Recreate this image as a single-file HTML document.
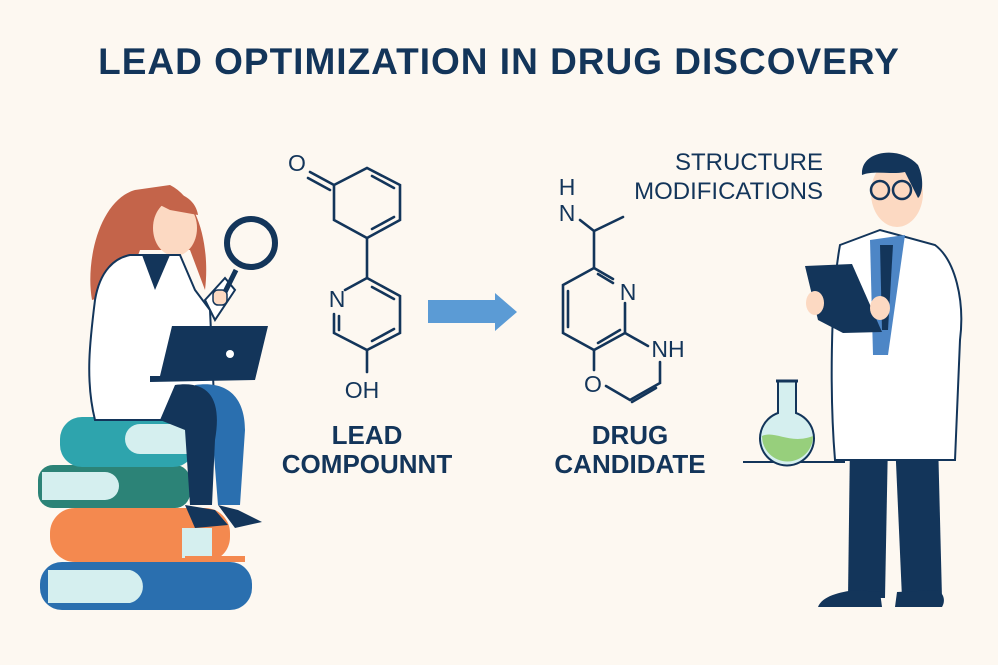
<!DOCTYPE html>
<html><head><meta charset="utf-8"><style>
html,body{margin:0;padding:0;background:#fdf8f1;}
svg{display:block}
text{font-family:"Liberation Sans",sans-serif;fill:#13355a;}
</style></head><body>
<svg width="998" height="665" viewBox="0 0 998 665" xmlns="http://www.w3.org/2000/svg">
<rect width="998" height="665" fill="#fdf8f1"/>
<text x="499" y="74" text-anchor="middle" font-size="37" font-weight="bold" letter-spacing="1">LEAD OPTIMIZATION IN DRUG DISCOVERY</text>

<!-- Lead compound -->
<g stroke="#13355a" stroke-width="2.6" fill="none" stroke-linecap="round">
<path d="M310,172 L334,185 M308,178 L330,190"/>
<path d="M334,185 L367,168 L400,185 L400,220 L367,238 L334,220 Z"/>
<path d="M372,176 L394,188 M372,229 L394,217"/>
<path d="M367,238 L367,278"/>
<path d="M367,278 L400,296 L400,333 L367,350 L334,333 L334,314 M345,290 L367,278"/>
<path d="M372,287 L394,299 M372,341 L394,329 M339,316 L339,330"/>
<path d="M367,350 L367,372"/>
</g>
<text x="297" y="171" text-anchor="middle" font-size="23">O</text>
<text x="337" y="307" text-anchor="middle" font-size="23">N</text>
<text x="362" y="398" text-anchor="middle" font-size="23">OH</text>
<text x="367" y="444" text-anchor="middle" font-size="26" font-weight="bold">LEAD</text>
<text x="367" y="473" text-anchor="middle" font-size="26" font-weight="bold">COMPOUNNT</text>

<polygon points="428,300 495,300 495,293 517,312 495,331 495,323 428,323" fill="#5b9bd5"/>

<!-- Drug candidate -->
<g stroke="#13355a" stroke-width="2.6" fill="none" stroke-linecap="round">
<path d="M580,220 L594,231 L623,217 M594,231 L594,268"/>
<path d="M594,268 L613,279 M594,268 L563,285 L563,333 L594,350 L625,333 L625,303"/>
<path d="M568,291 L568,327 M598,274 L613,283 M598,343 L620,330"/>
<path d="M625,333 L648,346 M660,362 L660,383 L630,400 L606,386 M594,350 L594,370"/>
<path d="M656,388 L632,402"/>
</g>
<text x="567" y="195" text-anchor="middle" font-size="23">H</text>
<text x="567" y="221" text-anchor="middle" font-size="23">N</text>
<text x="628" y="300" text-anchor="middle" font-size="23">N</text>
<text x="668" y="357" text-anchor="middle" font-size="23">NH</text>
<text x="593" y="392" text-anchor="middle" font-size="23">O</text>
<text x="630" y="444" text-anchor="middle" font-size="26" font-weight="bold">DRUG</text>
<text x="630" y="473" text-anchor="middle" font-size="26" font-weight="bold">CANDIDATE</text>

<text x="823" y="170" text-anchor="end" font-size="24">STRUCTURE</text>
<text x="823" y="199" text-anchor="end" font-size="24">MODIFICATIONS</text>

<!-- Books -->
<rect x="40" y="562" width="212" height="48" rx="22" fill="#2a6faf"/>
<path d="M48,570 L130,570 a17,17 0 0 1 0,33 L48,603 Z" fill="#d5efef"/>
<rect x="50" y="508" width="180" height="54" rx="25" fill="#f4894f"/>
<rect x="182" y="528" width="30" height="30" fill="#d5efef"/>
<rect x="185" y="556" width="60" height="6" fill="#f4894f"/>
<rect x="38" y="465" width="152" height="43" rx="15" fill="#2c8377"/>
<path d="M42,472 L105,472 a14,14 0 0 1 0,28 L42,500 Z" fill="#d5efef"/>
<rect x="60" y="417" width="135" height="50" rx="22" fill="#2ea4ad"/>
<path d="M190,424 L140,424 a15,15 0 0 0 0,30 L190,454 Z" fill="#d5efef"/>

<!-- Woman -->
<path d="M135,190 C100,200 85,260 92,300 L125,290 L140,250 L190,250 L205,290 C210,250 200,200 170,185 Z" fill="#c4644a"/>
<ellipse cx="175" cy="228" rx="22" ry="28" fill="#fcd9c2"/>
<path d="M150,200 C170,185 195,195 198,215 L170,210 Z" fill="#c4644a"/>
<path d="M130,255 L180,255 L195,290 L210,310 L215,420 L95,420 C85,380 90,340 95,300 C100,270 115,258 130,255 Z" fill="#fff" stroke="#13355a" stroke-width="2"/>
<path d="M142,255 L155,290 L170,255 Z" fill="#13355a"/>
<path d="M195,385 C230,380 245,400 245,430 L240,505 L218,505 L212,430 Z" fill="#2a6faf"/>
<path d="M175,385 C210,380 222,400 215,440 L212,505 L190,505 L185,430 L160,420 Z" fill="#13355a"/>
<path d="M185,505 L215,510 L228,525 L195,528 Z" fill="#13355a"/>
<path d="M218,505 L238,510 L262,522 L235,528 Z" fill="#13355a"/>
<polygon points="172,326 268,326 255,380 150,382 150,376 160,376" fill="#13355a"/>
<circle cx="230" cy="354" r="4" fill="#fff"/>
<path d="M205,300 L225,278 L235,290 L215,320 Z" fill="#fff" stroke="#13355a" stroke-width="2"/>
<rect x="213" y="290" width="14" height="15" rx="5" fill="#fcd9c2" stroke="#13355a" stroke-width="1.5"/>
<line x1="225" y1="292" x2="236" y2="270" stroke="#13355a" stroke-width="5"/>
<circle cx="251" cy="243" r="24" fill="none" stroke="#13355a" stroke-width="6"/>

<!-- Flask & table -->
<line x1="743" y1="462" x2="845" y2="462" stroke="#13355a" stroke-width="2"/>
<path d="M778,381 L778,413 A27,27 0 1 0 796,413 L796,381 Z" fill="#d5efef" stroke="#13355a" stroke-width="2"/>
<path d="M762,436 C775,430 790,445 813,436 A25,25 0 0 1 762,436 Z" fill="#97cf7c"/>
<line x1="776" y1="381" x2="798" y2="381" stroke="#13355a" stroke-width="3"/>

<!-- Man -->
<path d="M848,598 L850,440 L888,440 L885,598 Z" fill="#13355a"/>
<path d="M895,440 L938,440 L942,598 L902,598 Z" fill="#13355a"/>
<path d="M818,607 C822,596 840,592 855,590 L880,592 L882,607 Z" fill="#13355a"/>
<path d="M895,607 L897,592 L938,590 C945,595 945,602 942,607 Z" fill="#13355a"/>
<path d="M840,245 L880,230 L935,245 C955,260 965,300 960,340 L955,460 L835,460 C830,400 830,300 840,245 Z" fill="#fff" stroke="#13355a" stroke-width="2"/>
<path d="M870,240 L905,235 L888,355 L873,355 Z" fill="#4d86c6"/>
<path d="M880,245 L893,245 L888,330 L882,330 Z" fill="#13355a"/>
<ellipse cx="897" cy="193" rx="26" ry="34" fill="#fcd9c2"/>
<path d="M862,175 C860,150 900,145 918,165 C925,180 922,195 918,198 L905,172 C890,175 875,170 862,175 Z" fill="#13355a"/>
<circle cx="880" cy="190" r="9" fill="none" stroke="#13355a" stroke-width="2.5"/>
<circle cx="902" cy="190" r="9" fill="none" stroke="#13355a" stroke-width="2.5"/>
<polygon points="805,266 852,264 882,332 843,333 818,320" fill="#13355a"/>
<ellipse cx="815" cy="303" rx="9" ry="12" fill="#fcd9c2"/>
<ellipse cx="880" cy="308" rx="10" ry="12" fill="#fcd9c2"/>
</svg>
</body></html>
